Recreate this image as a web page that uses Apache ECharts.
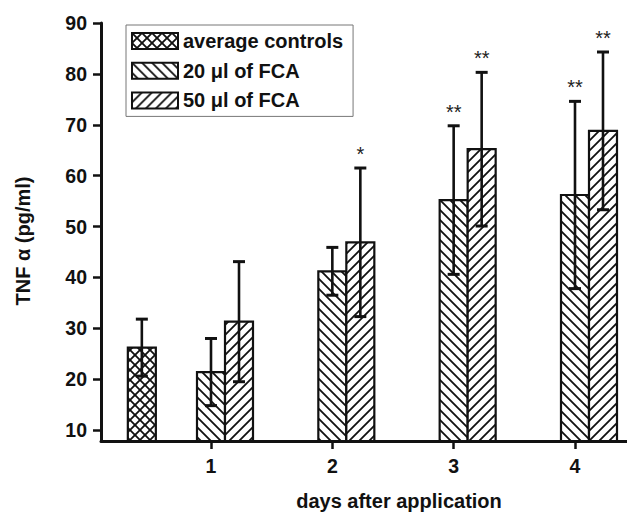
<!DOCTYPE html>
<html><head><meta charset="utf-8">
<script src="https://cdn.jsdelivr.net/npm/echarts@6/dist/echarts.min.js"></script>
<style>html,body{margin:0;padding:0;background:#fff}#c{width:627px;height:516px}</style>
</head><body><div id="c"></div>
<script>
// ---- data ----
const days = [1, 2, 3, 4];
const controlPos = [0.43];
const controlMean = [26.2];
const controlSd = [5.6];
const fca20Mean = [21.4, 41.2, 55.2, 56.2];
const fca20Sd = [6.6, 4.7, 14.6, 18.4];
const fca20Stars = ['', '', '**', '**'];
const fca50Mean = [31.3, 46.9, 65.2, 68.8];
const fca50Sd = [11.8, 14.6, 15.1, 15.5];
const fca50Stars = ['', '*', '**', '**'];
const controlStars = [''];
const yTicks = [10, 20, 30, 40, 50, 60, 70, 80, 90];
const xTicks = [1, 2, 3, 4];
const seriesNames = ['average controls', '20 μl of FCA', '50 μl of FCA'];

const yMin = 7.85, yMax = 90, xMin = 0.0934, xMax = 4.4286;
const FONT = '"Liberation Sans", Arial, sans-serif';

function makePattern(kind) {
  const s = 10;
  const c = document.createElement('canvas');
  c.width = s; c.height = s;
  const g = c.getContext('2d');
  g.fillStyle = '#fff'; g.fillRect(0, 0, s, s);
  g.strokeStyle = '#111'; g.lineWidth = 1.8;
  function back() { g.beginPath(); g.moveTo(-2, -2); g.lineTo(s + 2, s + 2); g.moveTo(-2, s - 2); g.lineTo(2, s + 2); g.moveTo(s - 2, -2); g.lineTo(s + 2, 2); g.stroke(); }
  function fwd() { g.beginPath(); g.moveTo(-2, s + 2); g.lineTo(s + 2, -2); g.moveTo(-2, 2); g.lineTo(2, -2); g.moveTo(s - 2, s + 2); g.lineTo(s + 2, s - 2); g.stroke(); }
  if (kind === 'back' || kind === 'cross') back();
  if (kind === 'fwd' || kind === 'cross') fwd();
  return { image: c, repeat: 'repeat', imageWidth: s, imageHeight: s };
}
const patCross = makePattern('cross');
const patBack = makePattern('back');
const patFwd = makePattern('fwd');

function makeRender(stars, offsetPx, pattern) {
  return function (params, api) {
    const i = params.dataIndex;
    const x = api.value(0), v = api.value(1), sd = api.value(2);
    const base = api.coord([x, yMin]);
    const top = api.coord([x, v]);
    const hi = api.coord([x, v + sd]);
    const lo = api.coord([x, v - sd]);
    const w = 28;
    const cx = base[0] + offsetPx;
    const children = [
      { type: 'rect', shape: { x: cx - w / 2, y: top[1], width: w, height: base[1] - top[1] },
        style: { fill: pattern, stroke: '#111', lineWidth: 2.2 } },
      { type: 'line', shape: { x1: cx, y1: hi[1], x2: cx, y2: lo[1] }, style: { stroke: '#111', lineWidth: 2.6 } },
      { type: 'line', shape: { x1: cx - 6, y1: hi[1], x2: cx + 6, y2: hi[1] }, style: { stroke: '#111', lineWidth: 3 } },
      { type: 'line', shape: { x1: cx - 6, y1: lo[1], x2: cx + 6, y2: lo[1] }, style: { stroke: '#111', lineWidth: 3 } }
    ];
    if (stars[i]) {
      children.push({ type: 'text', style: { text: stars[i], x: cx, y: hi[1] - 14, align: 'center', verticalAlign: 'middle',
        font: 'normal 20px ' + FONT, fill: '#222' } });
    }
    return { type: 'group', children: children };
  };
}

const chart = echarts.init(document.getElementById('c'), null, { renderer: 'svg' });
chart.setOption({
  animation: false,
  backgroundColor: '#fff',
  grid: { left: 101, right: 0, top: 23, bottom: 73, containLabel: false },
  legend: {
    left: 126, top: 25, orient: 'vertical',
    data: seriesNames,
    icon: 'rect', itemWidth: 46, itemHeight: 16, itemGap: 9.7,
    padding: [6, 10, 6, 5],
    borderColor: '#777', borderWidth: 1,
    itemStyle: { borderColor: '#111', borderWidth: 2 },
    textStyle: { fontFamily: FONT, fontWeight: 'bold', fontSize: 20, lineHeight: 16, color: '#111' }
  },
  xAxis: {
    type: 'value', min: xMin, max: xMax,
    name: 'days after application', nameLocation: 'middle', nameGap: 50,
    nameTextStyle: { fontFamily: FONT, fontWeight: 'bold', fontSize: 20, color: '#111', padding: [0, 0, 0, 70] },
    splitLine: { show: false },
    axisLine: { onZero: false, lineStyle: { color: '#111', width: 3 } },
    axisTick: { customValues: xTicks, length: 8, lineStyle: { color: '#111', width: 2.5 } },
    axisLabel: { customValues: xTicks, margin: 15, fontFamily: FONT, fontWeight: 'bold', fontSize: 19.5, color: '#111' }
  },
  yAxis: {
    type: 'value', min: yMin, max: yMax,
    name: 'TNF α (pg/ml)', nameLocation: 'middle', nameGap: 68,
    nameTextStyle: { fontFamily: FONT, fontWeight: 'bold', fontSize: 20, color: '#111', padding: [0, 18, 0, 0] },
    splitLine: { show: false },
    axisLine: { show: true, onZero: false, lineStyle: { color: '#111', width: 3 } },
    axisTick: { customValues: yTicks, length: 8, lineStyle: { color: '#111', width: 2.5 } },
    axisLabel: { customValues: yTicks, margin: 14, fontFamily: FONT, fontWeight: 'bold', fontSize: 19.5, color: '#111' }
  },
  series: [
    { name: seriesNames[0], type: 'custom', itemStyle: { color: patCross },
      renderItem: makeRender(controlStars, 0, patCross),
      data: controlPos.map((p, i) => [p, controlMean[i], controlSd[i]]) },
    { name: seriesNames[1], type: 'custom', itemStyle: { color: patBack },
      renderItem: makeRender(fca20Stars, 0, patBack),
      data: days.map((d, i) => [d, fca20Mean[i], fca20Sd[i]]) },
    { name: seriesNames[2], type: 'custom', itemStyle: { color: patFwd },
      renderItem: makeRender(fca50Stars, 28, patFwd),
      data: days.map((d, i) => [d, fca50Mean[i], fca50Sd[i]]) }
  ]
});
</script></body></html>
